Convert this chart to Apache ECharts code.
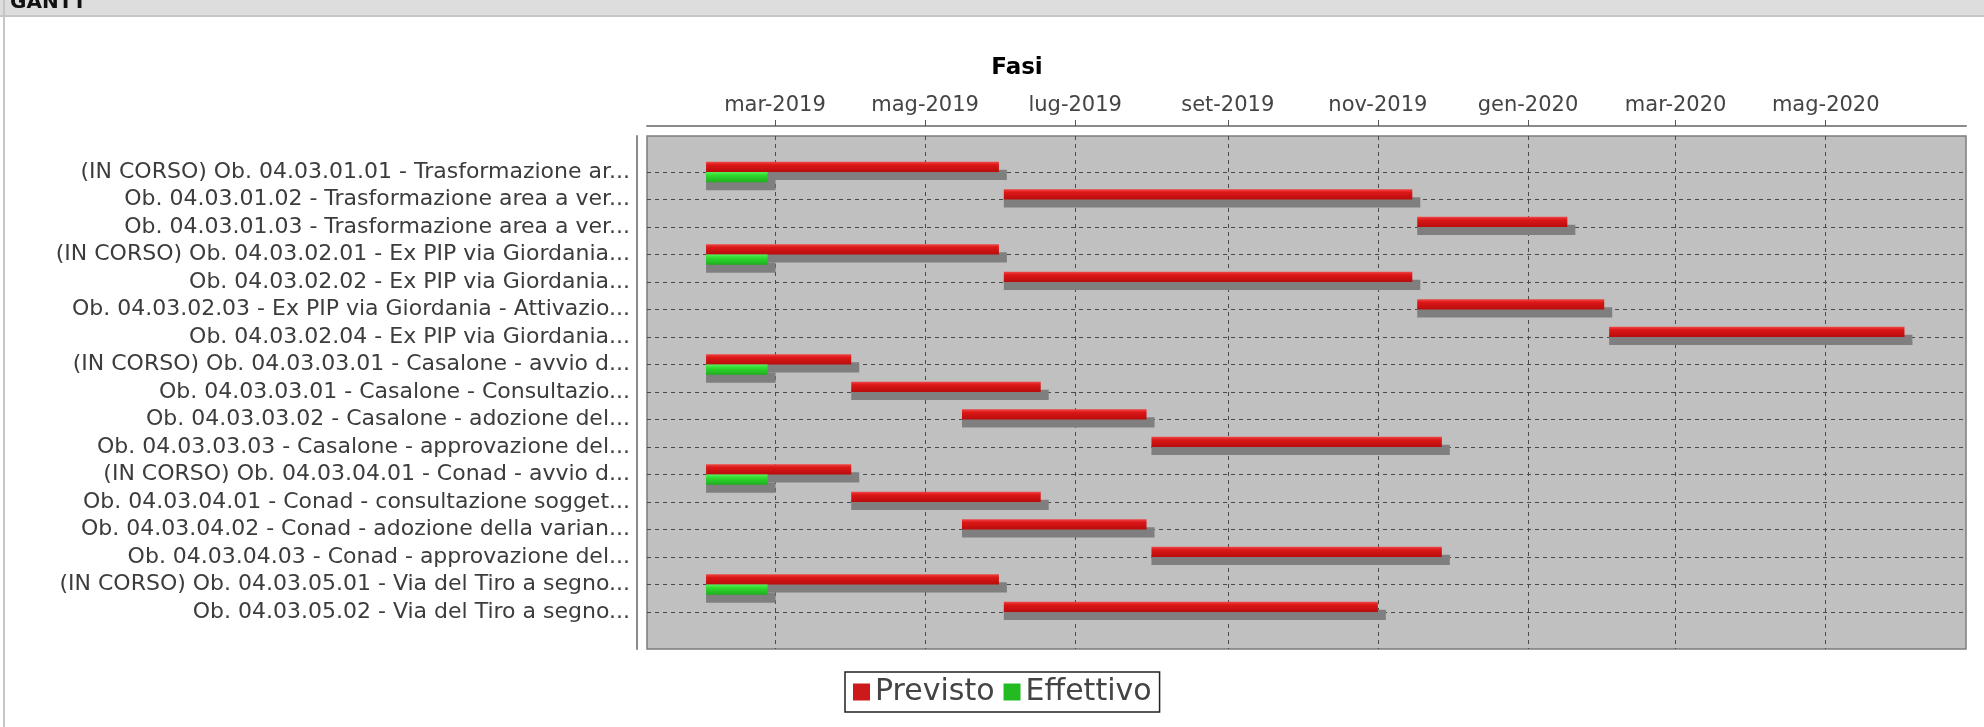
<!DOCTYPE html>
<html>
<head>
<meta charset="utf-8">
<title>GANTT - Fasi</title>
<script src="https://cdn.jsdelivr.net/npm/echarts@6/dist/echarts.min.js"></script>
<style>
html, body { margin: 0; padding: 0; background: #ffffff; }
#main { width: 1984px; height: 727px; }
</style>
</head>
<body>
<div id="main"></div>
<script type="text/javascript">
// fasi (categorie), dall'alto in basso
var categories = [
    '(IN CORSO) Ob. 04.03.01.01 - Trasformazione ar...',
    'Ob. 04.03.01.02 - Trasformazione area a ver...',
    'Ob. 04.03.01.03 - Trasformazione area a ver...',
    '(IN CORSO) Ob. 04.03.02.01 - Ex PIP via Giordania...',
    'Ob. 04.03.02.02 - Ex PIP via Giordania...',
    'Ob. 04.03.02.03 - Ex PIP via Giordania - Attivazio...',
    'Ob. 04.03.02.04 - Ex PIP via Giordania...',
    '(IN CORSO) Ob. 04.03.03.01 - Casalone - avvio d...',
    'Ob. 04.03.03.01 - Casalone - Consultazio...',
    'Ob. 04.03.03.02 - Casalone - adozione del...',
    'Ob. 04.03.03.03 - Casalone - approvazione del...',
    '(IN CORSO) Ob. 04.03.04.01 - Conad - avvio d...',
    'Ob. 04.03.04.01 - Conad - consultazione sogget...',
    'Ob. 04.03.04.02 - Conad - adozione della varian...',
    'Ob. 04.03.04.03 - Conad - approvazione del...',
    '(IN CORSO) Ob. 04.03.05.01 - Via del Tiro a segno...',
    'Ob. 04.03.05.02 - Via del Tiro a segno...'
];

// Previsto
var previstoStart = [
    '2019-02-01', '2019-06-02', '2019-11-17', '2019-02-01', '2019-06-02',
    '2019-11-17', '2020-02-03', '2019-02-01', '2019-04-01', '2019-05-16',
    '2019-08-01', '2019-02-01', '2019-04-01', '2019-05-16', '2019-08-01',
    '2019-02-01', '2019-06-02'
];
var previstoEnd = [
    '2019-05-31', '2019-11-15', '2020-01-17', '2019-05-31', '2019-11-15',
    '2020-02-01', '2020-06-02', '2019-04-01', '2019-06-17', '2019-07-30',
    '2019-11-27', '2019-04-01', '2019-06-17', '2019-07-30', '2019-11-27',
    '2019-05-31', '2019-11-01'
];

// Effettivo (solo fasi in corso)
var effettivoStart = [
    '2019-02-01', null, null, '2019-02-01', null,
    null, null, '2019-02-01', null, null,
    null, '2019-02-01', null, null, null,
    '2019-02-01', null
];
var effettivoEnd = [
    '2019-02-26', null, null, '2019-02-26', null,
    null, null, '2019-02-26', null, null,
    null, '2019-02-26', null, null, null,
    '2019-02-26', null
];

// asse delle date
var tickDates = ['2019-03-01', '2019-05-01', '2019-07-01', '2019-09-01',
                 '2019-11-01', '2020-01-01', '2020-03-01', '2020-05-01'];
var tickLabels = ['mar-2019', 'mag-2019', 'lug-2019', 'set-2019',
                  'nov-2019', 'gen-2020', 'mar-2020', 'mag-2020'];
var axisMin = '2019-01-08';
var axisMax = '2020-06-27';

function toTime(s) {
    var p = s.split('-');
    return Date.UTC(+p[0], +p[1] - 1, +p[2]);
}

var tickTimes = tickDates.map(toTime);

var previstoData = [];
var effettivoData = [];
for (var i = 0; i < categories.length; i++) {
    previstoData.push([i, toTime(previstoStart[i]), toTime(previstoEnd[i])]);
    if (effettivoStart[i]) {
        effettivoData.push([i, toTime(effettivoStart[i]), toTime(effettivoEnd[i])]);
    }
}

var redFill = {
    type: 'linear', x: 0, y: 0, x2: 0, y2: 1,
    colorStops: [
        { offset: 0, color: '#ef4545' },
        { offset: 0.3, color: '#dc1717' },
        { offset: 1, color: '#b80c0c' }
    ]
};
var greenFill = {
    type: 'linear', x: 0, y: 0, x2: 0, y2: 1,
    colorStops: [
        { offset: 0, color: '#55f255' },
        { offset: 0.35, color: '#2ed82e' },
        { offset: 1, color: '#1eae1e' }
    ]
};

// barra con ombra; upper = true -> meta superiore della riga
function barRenderer(upper, fill) {
    return function (params, api) {
        var cat = api.value(0);
        var p0 = api.coord([api.value(1), cat]);
        var p1 = api.coord([api.value(2), cat]);
        var band = api.size([0, 1])[1];
        var h = band * 0.37;
        var sh = band * 0.29;
        var y = upper ? p0[1] - h : p0[1];
        var w = p1[0] - p0[0];
        return {
            type: 'group',
            children: [
                {
                    type: 'rect',
                    shape: { x: p0[0], y: y + sh, width: w + sh, height: h },
                    style: { fill: '#7f7f7f' }
                },
                {
                    type: 'rect',
                    shape: { x: p0[0], y: y, width: w, height: h },
                    style: { fill: fill }
                }
            ]
        };
    };
}

var myChart = echarts.init(document.getElementById('main'));

var option = {
    backgroundColor: '#ffffff',
    animation: false,
    textStyle: { fontFamily: 'DejaVu Sans' },
    title: {
        text: 'Fasi',
        left: 1012,
        textAlign: 'center',
        top: 52,
        textStyle: { fontSize: 23, fontWeight: 'bold', color: '#000', fontFamily: 'DejaVu Sans' }
    },
    graphic: [
        { type: 'rect', shape: { x: 0, y: 0, width: 1984, height: 16 }, style: { fill: '#dddddd' }, z: -10 },
        { type: 'rect', shape: { x: 0, y: 15, width: 1984, height: 2 }, style: { fill: '#c6c6c6' }, z: -10 },
        { type: 'rect', shape: { x: 3, y: 0, width: 2, height: 727 }, style: { fill: '#c6c6c6' }, z: -10 },
        {
            type: 'text', x: 10, y: 13, z: -9,
            style: { text: 'GANTT', fontSize: 20, fontWeight: 'bold', fill: '#111',
                     fontFamily: 'DejaVu Sans', textVerticalAlign: 'bottom' }
        }
    ],
    legend: {
        left: 845,
        top: 672,
        padding: [5, 8, 5, 8],
        borderColor: '#222',
        borderWidth: 1.5,
        itemWidth: 17,
        itemHeight: 17,
        itemGap: 9,
        icon: 'rect',
        data: ['Previsto', 'Effettivo'],
        textStyle: { fontSize: 30, color: '#444', fontFamily: 'DejaVu Sans' }
    },
    grid: [
        {
            left: 647, right: 18, top: 136, bottom: 78,
            show: true,
            backgroundColor: '#c0c0c0',
            borderColor: '#7c7c7c',
            borderWidth: 1.5
        },
        {
            left: 647, right: 18, top: 172, bottom: 115,
            show: false
        }
    ],
    xAxis: [
        {
            gridIndex: 0,
            type: 'value',
            position: 'top',
            offset: 10,
            min: toTime(axisMin),
            max: toTime(axisMax),
            axisLine: { show: true, onZero: false, lineStyle: { color: '#8a8a8a', width: 2 } },
            axisTick: { show: true, length: 6, customValues: tickTimes, lineStyle: { color: '#555' } },
            axisLabel: {
                customValues: tickTimes,
                margin: 10,
                fontSize: 21,
                color: '#444',
                fontFamily: 'DejaVu Sans',
                formatter: function (v) {
                    var k = tickTimes.indexOf(v);
                    return k >= 0 ? tickLabels[k] : '';
                }
            },
            splitLine: { show: true, lineStyle: { color: '#4a4a4a', type: [4, 4], width: 1 } }
        },
        {
            gridIndex: 1,
            type: 'value',
            min: toTime(axisMin),
            max: toTime(axisMax),
            show: false
        }
    ],
    yAxis: [
        {
            gridIndex: 0,
            type: 'value',
            min: 0,
            max: 1,
            offset: 10,
            axisLine: { show: true, onZero: false, lineStyle: { color: '#8a8a8a', width: 2 } },
            axisTick: { show: false },
            axisLabel: { show: false },
            splitLine: { show: false }
        },
        {
            gridIndex: 1,
            type: 'category',
            data: categories,
            inverse: true,
            boundaryGap: false,
            axisLine: { show: false },
            axisTick: { show: false, interval: 0 },
            axisLabel: { interval: 0, hideOverlap: false, fontSize: 22, color: '#3c3c3c', margin: 17, fontFamily: 'DejaVu Sans' },
            splitLine: { show: true, interval: 0, lineStyle: { color: '#4a4a4a', type: [4, 4], width: 1 } }
        }
    ],
    series: [
        {
            name: 'Previsto',
            type: 'custom',
            xAxisIndex: 1,
            yAxisIndex: 1,
            itemStyle: { color: '#cc1a1a' },
            renderItem: barRenderer(true, redFill),
            encode: { x: [1, 2], y: 0 },
            data: previstoData
        },
        {
            name: 'Effettivo',
            type: 'custom',
            xAxisIndex: 1,
            yAxisIndex: 1,
            itemStyle: { color: '#22bb22' },
            renderItem: barRenderer(false, greenFill),
            encode: { x: [1, 2], y: 0 },
            data: effettivoData
        }
    ]
};

myChart.setOption(option);
</script>
</body>
</html>
